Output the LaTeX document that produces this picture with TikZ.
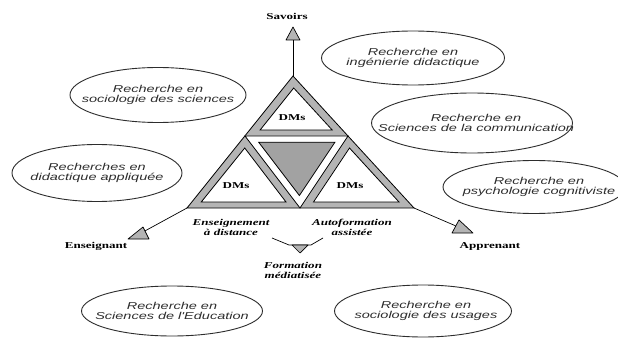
\documentclass[tikz,border=0pt]{standalone}
\usepackage{fontspec}
\setmainfont{Liberation Serif}
\newfontfamily\ellfont[FakeStretch=1.45]{Liberation Sans}
\newfontfamily\labfont[FakeStretch=1.45]{Liberation Serif}
\usetikzlibrary{shapes.geometric,calc}
\definecolor{bandgray}{RGB}{180,180,180}
\definecolor{midgray}{RGB}{162,162,162}
\definecolor{inkline}{RGB}{45,45,45}
\begin{document}
\begin{tikzpicture}[x=1pt,y=-1pt,
  ellbox/.style={draw=inkline, line width=0.9pt, ellipse, inner sep=0pt},
  elltext/.style={font=\ellfont\itshape\fontsize{10}{10.5}\selectfont, align=center, inner sep=0pt, text=inkline},
  boldlab/.style={font=\labfont\bfseries\fontsize{9}{10}\selectfont, inner sep=0pt},
  itlab/.style={font=\labfont\bfseries\itshape\fontsize{9}{10}\selectfont, align=center, inner sep=0pt},
  tri/.style={draw=black, line width=0.8pt, line join=miter},
  head/.style={draw=black, fill=bandgray, line width=0.7pt, line join=round},
  conn/.style={draw=black, line width=0.7pt}
]
\useasboundingbox (0,0) rectangle (618,339);
\fill[white] (0,0) rectangle (618,339);

% main triangle
\coordinate (A) at (293,76);
\coordinate (L) at (187,208);
\coordinate (R) at (414,208);
\coordinate (P1) at (245,136);
\coordinate (P2) at (348,136);
\coordinate (M) at (300,208);
\coordinate (cT) at ($0.3333*(A)+0.3333*(P1)+0.3333*(P2)$);
\coordinate (cL) at ($0.3333*(P1)+0.3333*(L)+0.3333*(M)$);
\coordinate (cR) at ($0.3333*(P2)+0.3333*(M)+0.3333*(R)$);
\coordinate (cM) at ($0.3333*(P1)+0.3333*(P2)+0.3333*(M)$);

\draw[tri, fill=bandgray] (A) -- (L) -- (R) -- cycle;
\draw[tri, fill=white] (P1) -- (P2) -- (M) -- cycle;
\draw[tri, fill=white] ($(cT)!0.7!(A)$) -- ($(cT)!0.7!(P1)$) -- ($(cT)!0.7!(P2)$) -- cycle;
\draw[tri, fill=white] ($(cL)!0.75!(P1)$) -- ($(cL)!0.75!(L)$) -- ($(cL)!0.75!(M)$) -- cycle;
\draw[tri, fill=white] ($(cR)!0.75!(P2)$) -- ($(cR)!0.75!(M)$) -- ($(cR)!0.75!(R)$) -- cycle;
\draw[tri, fill=midgray] ($(cM)!0.74!(P1)$) -- ($(cM)!0.74!(P2)$) -- ($(cM)!0.74!(M)$) -- cycle;

\node[boldlab] (dm1) at (292,118) {DMs};
\node[boldlab] (dm2) at (236,186) {DMs};
\node[boldlab] (dm3) at (350,186) {DMs};

% arrows
\coordinate (savb) at (293,40);
\draw[conn] (A) -- (savb);
\draw[head] (286,40) -- (300,40) -- (293,27) -- cycle;
\node[boldlab] (sav) at (287,16) {Savoirs};

\coordinate (ensb) at (143,232);
\draw[conn] (L) -- (ensb);
\draw[head] (128,239) -- (149,239) -- (143,227) -- cycle;
\node[boldlab] (ens) at (96,246) {Enseignant};

\coordinate (appb) at (456,226);
\draw[conn] (R) -- (appb);
\draw[head] (452,233) -- (473,233) -- (459,220) -- cycle;
\node[boldlab] (app) at (490,246) {Apprenant};

\coordinate (fb1) at (272,238);
\coordinate (fb2) at (289,245);
\coordinate (fb3) at (311,245);
\coordinate (fb4) at (323,238);
\draw[conn] (fb1) -- (fb2) -- (fb3) -- (fb4);
\draw[head] (292,245) -- (308,245) -- (300,253) -- cycle;

\node[itlab] (dist) at (231,227) {Enseignement\\à distance};
\node[itlab] (auto) at (352,227) {Autoformation\\assistée};
\node[itlab] (form) at (293,270) {Formation\\médiatisée};

% ellipses
\node[ellbox, minimum width=176pt, minimum height=55pt] (e1) at (158,95) {};
\node[elltext] (e1t) at (e1) {Recherche en\\sociologie des sciences};
\node[ellbox, minimum width=170pt, minimum height=57pt] (e2) at (97,173) {};
\node[elltext] (e2t) at (e2) {Recherches en\\didactique appliquée};
\node[ellbox, minimum width=183pt, minimum height=54pt] (e3) at (413,58) {};
\node[elltext] (e3t) at (e3) {Recherche en\\ingénierie didactique};
\node[ellbox, minimum width=201pt, minimum height=60pt] (e4) at (472,123) {};
\node[elltext] (e4t) at (476,123) {Recherche en\\Sciences de la communication};
\node[ellbox, minimum width=182pt, minimum height=53pt] (e5) at (534,187) {};
\node[elltext] (e5t) at (539,187) {Recherche en\\psychologie cognitiviste};
\node[ellbox, minimum width=181pt, minimum height=50pt] (e6) at (172,311) {};
\node[elltext] (e6t) at (e6) {Recherche en\\Sciences de l'Education};
\node[ellbox, minimum width=177pt, minimum height=52pt] (e7) at (423,311) {};
\node[elltext] (e7t) at (426,311) {Recherche en\\sociologie des usages};
\end{tikzpicture}
\end{document}
